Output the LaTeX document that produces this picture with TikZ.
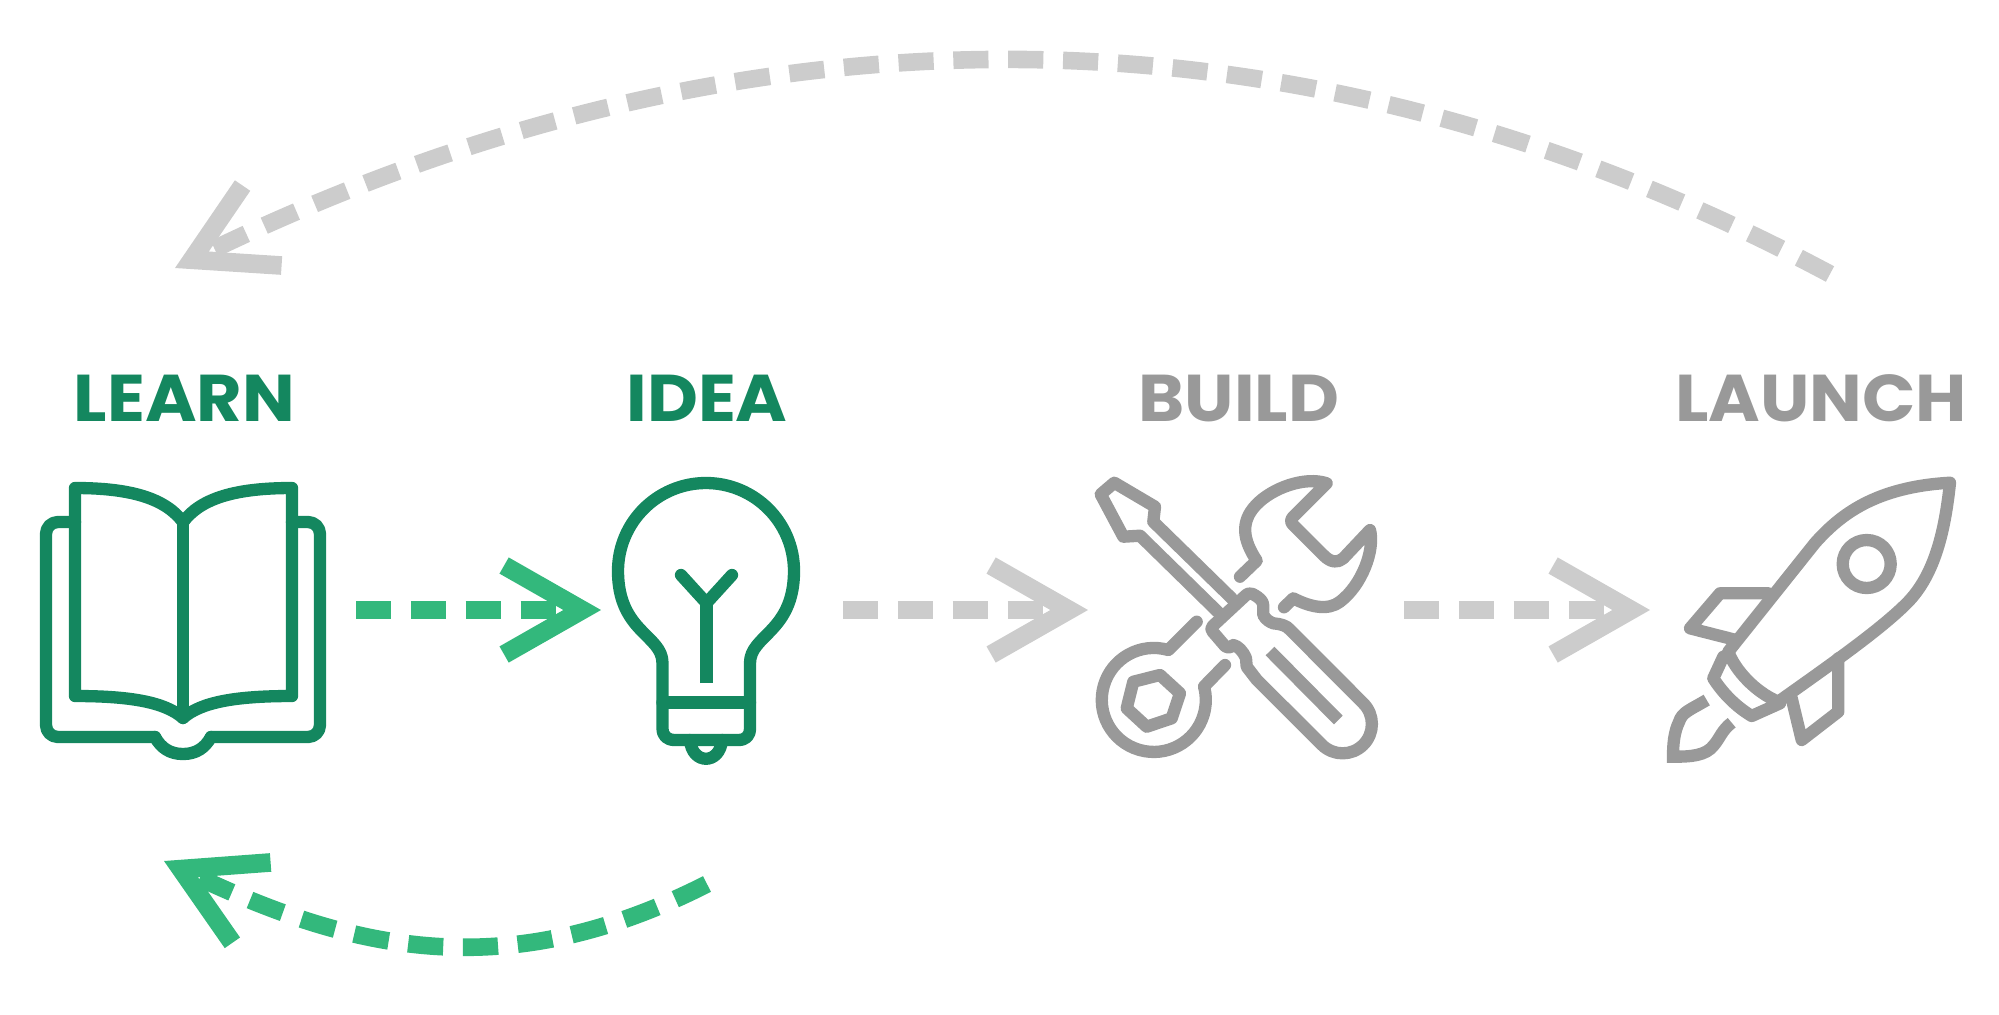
\documentclass[tikz,border=0pt]{standalone}
\usepackage{fontspec}
\setmainfont{Poppins}
\newfontfamily\headfont[FakeStretch=1.06]{Poppins Bold}
\usetikzlibrary{arrows.meta}
\definecolor{darkgreen}{HTML}{14875F}
\definecolor{lightgreen}{HTML}{33B87C}
\definecolor{darkgray}{HTML}{999999}
\definecolor{lightgray}{HTML}{CCCCCC}
\tikzset{
  icon/.style={line width=3.5pt,line join=round,line cap=round},
  heading/.style={font=\headfont\fontsize{18.8pt}{18.8pt}\selectfont,anchor=base,inner sep=0pt},
  flow/.style={line width=5pt,dash pattern=on 10pt off 5.6pt,
    -{Straight Barb[length=22.2pt,width=25.3pt,line width=5.3pt]}},
}
\begin{document}
\begin{tikzpicture}[x=0.01cm,y=-0.01cm]
    \useasboundingbox (0,0) rectangle (1999,1014);
    \node[heading,darkgreen] (learn) at (184.5,421.5) {LEARN};
    \node[heading,darkgreen] (idea) at (707,421.5) {IDEA};
    \node[heading,darkgray] (build) at (1239,421.5) {BUILD};
    \node[heading,darkgray] (launch) at (1821,421.5) {LAUNCH};

    % book
    \draw[icon,darkgreen] (75,488) .. controls (130,488) and (165,498) .. (183,522)
        .. controls (201,498) and (236,488) .. (292,488) -- (292,696)
        .. controls (236,696) and (201,702) .. (183,718)
        .. controls (165,702) and (130,696) .. (75,696) -- cycle;
    \draw[icon,darkgreen] (183,522) -- (183,718);
    \draw[icon,darkgreen,rounded corners=3.4pt] (75,522) -- (46,522) -- (46,737) -- (155,737);
    \draw[icon,darkgreen,rounded corners=3.4pt] (292,522) -- (320,522) -- (320,737) -- (211,737);
    \draw[icon,darkgreen] (155,737) .. controls (161,748) and (170,754) .. (183,754)
        .. controls (196,754) and (205,748) .. (211,737);

    % bulb
    \draw[icon,darkgreen] (662.5,663) .. controls (662.5,635) and (618,632) .. (618,571)
        arc[start angle=180,end angle=360,radius=88]
        .. controls (794,632) and (750,635) .. (750,663) -- (750,728)
        .. controls (750,736) and (746,740) .. (738,740) -- (675,740)
        .. controls (667,740) and (662.5,736) .. (662.5,728) -- cycle;
    \draw[icon,darkgreen] (662.5,702.5) -- (750,702.5);
    \draw[icon,darkgreen] (690,740) .. controls (692,765) and (720,765) .. (722,740);
    \draw[icon,darkgreen,line cap=butt] (706.5,683) -- (706.5,603);
    \draw[icon,darkgreen] (681,575) -- (706.5,603) -- (732,575);

    % tools
    \draw[icon,darkgray] (1219.3,613.3) -- (1140,535.7) -- (1123.3,536.7) -- (1100.7,494.3)
        -- (1114.3,482.7) -- (1155,506.7) -- (1153.3,521.7) -- (1231.7,598.3);
    \draw[icon,darkgray] (1212.7,626) -- (1245,596) .. controls (1248,593) and (1250,593) .. (1252.7,594)
        .. controls (1260,598) and (1263.3,601) .. (1263.3,606) -- (1263.3,615)
        .. controls (1266,620) and (1270,622) .. (1273.3,623.3)
        .. controls (1280,624) and (1286,625) .. (1290,629.7)
        -- (1363.3,703.3) arc[start angle=-45,end angle=135,radius=29.3]
        -- (1256.7,679.7) -- (1246.7,666.7) -- (1246,658.3)
        .. controls (1243,651) and (1238,646) .. (1233.3,645)
        .. controls (1230,648) and (1228,648) .. (1225,646)
        -- (1212.7,631.7) .. controls (1211,630) and (1211,628) .. (1212.7,626) -- cycle;
    \draw[icon,darkgray,line cap=butt] (1270,651) -- (1338.3,720);
    \draw[icon,darkgray] (1240,576.7) -- (1256.7,560.7) .. controls (1243,540) and (1240,522) .. (1256,505)
        .. controls (1272,488) and (1305,476) .. (1326.7,483.3) -- (1293,517)
        .. controls (1290,520) and (1291,523) .. (1293.3,525) -- (1323.3,555)
        .. controls (1331,563) and (1338,563) .. (1343.3,558.3) -- (1370,530)
        .. controls (1375,550) and (1362,585) .. (1340,601.7)
        .. controls (1328,611) and (1310,607) .. (1293.3,598.3) -- (1284,607.3);
    \draw[icon,darkgray] (1196.7,621.7) -- (1168.3,650)
        arc[start angle=-73.8,end angle=-375,radius=52] -- (1225,665);
    \draw[icon,darkgray] (1160,675) -- (1180,693.3) -- (1171.7,718.3) -- (1146.7,726.7)
        -- (1126.7,708.3) -- (1133.3,681.7) -- cycle;

    % rocket
    \draw[icon,darkgray] (1728.3,651.7) -- (1815,543) .. controls (1840,515) and (1875,487) .. (1950,482.7)
        .. controls (1945,530) and (1935,575) .. (1906.7,603.3)
        .. controls (1880,630) and (1830,665) .. (1778.3,701.7)
        .. controls (1755,692) and (1735,670) .. (1728.3,651.7) -- cycle;
    \draw[icon,darkgray] (1866.7,564) circle[radius=24];
    \draw[icon,darkgray] (1768.3,593.3) -- (1720,593.3) -- (1690,628.3) -- (1733.3,639.3);
    \draw[icon,darkgray] (1838.3,658.3) -- (1838.3,711.7) -- (1801.7,740) -- (1791.7,698.3);
    \draw[icon,darkgray] (1723.3,656.7) -- (1713.3,678.3) .. controls (1722,692) and (1735,706) .. (1751.7,716) -- (1780,703.3);
    \draw[icon,darkgray,line cap=butt,line join=miter] (1706.7,700) .. controls (1690,710) and (1682,712) .. (1679,722)
        .. controls (1674,732) and (1673,745) .. (1673,756.7)
        .. controls (1690,756.7) and (1706,756) .. (1714,745)
        .. controls (1720,738) and (1722,730) .. (1731.7,722.7);

    % arrows
    \coordinate (ideastart) at (356,610);
    \coordinate (ideatip) at (601,610);
    \coordinate (buildstart) at (843,610);
    \coordinate (buildtip) at (1088,610);
    \coordinate (launchstart) at (1404,610);
    \coordinate (launchtip) at (1650,610);
    \coordinate (backstart) at (1830,274);
    \coordinate (backtip) at (175,268);
    \coordinate (loopstart) at (707,884);
    \coordinate (looptip) at (164,861);
    \draw[flow,lightgreen] (ideastart) -- (ideatip);
    \draw[flow,lightgray] (buildstart) -- (buildtip);
    \draw[flow,lightgray] (launchstart) -- (launchtip);
    \draw[flow,lightgray] (backstart) .. controls (1300,-9) and (743,-9) .. (backtip);
    \draw[flow,lightgreen] (loopstart) .. controls (502,988) and (349,949) .. (looptip);
\end{tikzpicture}
\end{document}
